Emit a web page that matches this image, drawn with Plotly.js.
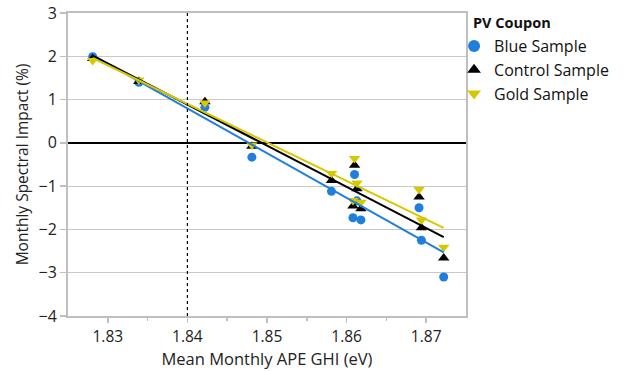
<!DOCTYPE html>
<html><head><meta charset="utf-8">
<script src="https://cdn.plot.ly/plotly-3.0.1.min.js"></script>
<style>body{margin:0;background:#fff}#c{width:630px;height:371px}</style>
</head><body><div id="c"></div>
<script>
const xBlue    = [1.8281, 1.8339, 1.8422, 1.8481, 1.8581, 1.8610, 1.8613, 1.8608, 1.8618, 1.8691, 1.8694, 1.8722];
const xControl = [1.8281, 1.8339, 1.8422, 1.8481, 1.8581, 1.8610, 1.8613, 1.8608, 1.8618, 1.8691, 1.8694, 1.8722];
const xGold    = [1.8281, 1.8339, 1.8422, 1.8481, 1.8581, 1.8610, 1.8613, 1.8608, 1.8618, 1.8691, 1.8694, 1.8722];
const blueVals    = [1.99, 1.40, 0.82, -0.33, -1.12, -0.73, -1.34, -1.73, -1.78, -1.50, -2.25, -3.10];
const controlVals = [1.95, 1.42, 0.95, -0.08, -0.87, -0.52, -1.06, -1.46, -1.52, -1.25, -1.96, -2.66];
const goldVals    = [1.90, 1.45, 0.92, -0.05, -0.71, -0.36, -0.93, -1.33, -1.37, -1.08, -1.78, -2.41];
const seriesNames = ["Blue Sample", "Control Sample", "Gold Sample"];
const legendTitle = "PV Coupon";
const colors = ["#1f7fdc", "#000000", "#d6c800"];
const symbols = ["circle", "triangle-up", "triangle-down"];
const refX = 1.84;

function fit(xs, ys){
  const n = xs.length;
  const mx = xs.reduce((a,b)=>a+b,0)/n, my = ys.reduce((a,b)=>a+b,0)/n;
  let sxy=0, sxx=0;
  for(let i=0;i<n;i++){sxy+=(xs[i]-mx)*(ys[i]-my); sxx+=(xs[i]-mx)**2;}
  const b = sxy/sxx, a = my-b*mx;
  const x0 = Math.min(...xs), x1 = Math.max(...xs);
  return {x:[x0,x1], y:[a+b*x0, a+b*x1]};
}

const xs = [xBlue, xControl, xGold], ys = [blueVals, controlVals, goldVals];
const traces = [];
for (let i=0;i<3;i++){
  traces.push({x: xs[i], y: ys[i], type:'scatter', mode:'markers', name: seriesNames[i],
    marker:{color: colors[i], symbol: symbols[i], size: i===0?9:10}});
}
for (let i=0;i<3;i++){
  const f = fit(xs[i], ys[i]);
  traces.push({x: f.x, y: f.y, type:'scatter', mode:'lines', showlegend:false, hoverinfo:'skip',
    line:{color: colors[i], width: 2}});
}

const layout = {
  width:630, height:371,
  margin:{l:68, r:164, t:13, b:55, autoexpand:false},
  paper_bgcolor:'#fff', plot_bgcolor:'#fff',
  font:{family:'"Open Sans", "Noto Sans", sans-serif', color:'#222', size:14},
  showlegend:true,
  legend:{x:0.970, y:0.947, xanchor:'left', yanchor:'top', bgcolor:'rgba(0,0,0,0)',
    font:{size:16, color:'#111'}, itemsizing:'constant', tracegroupgap:0, itemwidth:30},
  annotations:[{text:'<b>'+legendTitle+'</b>', xref:'paper', yref:'paper', x:1.0135, y:0.970,
    xanchor:'left', yanchor:'middle', showarrow:false, font:{size:14.5, color:'#111'}}],
  xaxis:{range:[1.825, 1.875], tickvals:[1.83,1.84,1.85,1.86,1.87], ticktext:['1.83','1.84','1.85','1.86','1.87'],
    showgrid:false, zeroline:false, showline:true, linecolor:'#bfbfbf', linewidth:2, mirror:true,
    ticks:'outside', ticklen:5, tickcolor:'#bfbfbf', tickwidth:1.5,
    minor:{tickvals:[1.835,1.845,1.855,1.865], ticks:'outside', ticklen:3, tickcolor:'#bfbfbf'},
    tickfont:{size:15.5, color:'#222'},
    title:{text:'Mean Monthly APE GHI (eV)', font:{size:16.5, color:'#222'}, standoff:6}},
  yaxis:{range:[-4, 3], dtick:1, tick0:0, showgrid:true, gridcolor:'#c8c8c8', gridwidth:1,
    zeroline:true, zerolinecolor:'#000', zerolinewidth:1.5,
    showline:true, linecolor:'#bfbfbf', linewidth:2, mirror:true,
    ticks:'outside', ticklen:6, tickcolor:'#bfbfbf', tickwidth:1.5,
    tickfont:{size:16, color:'#222'},
    title:{text:'Monthly Spectral Impact (%)', font:{size:15.5, color:'#222'}, standoff:6}},
  shapes:[{type:'line', xref:'x', yref:'paper', x0:refX, x1:refX, y0:0, y1:1,
    line:{color:'#000', width:1.2, dash:'dot'}}]
};
Plotly.newPlot('c', traces, layout, {displayModeBar:false, staticPlot:true});
</script></body></html>
